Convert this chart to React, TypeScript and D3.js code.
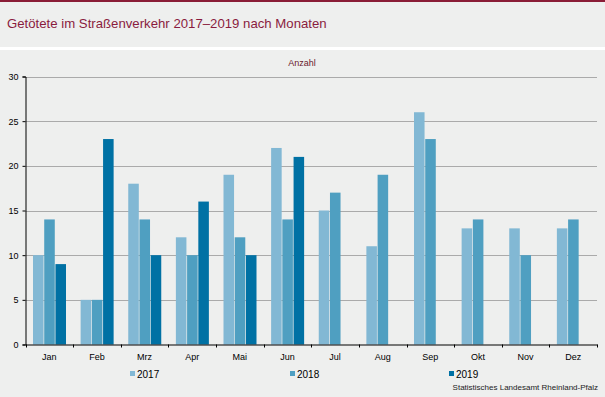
import { useEffect, useRef } from "react";
import * as d3 from "d3";

const months = ["Jan", "Feb", "Mrz", "Apr", "Mai", "Jun", "Jul", "Aug", "Sep", "Okt", "Nov", "Dez"];
const years = ["2017", "2018", "2019"];
const v2017 = [10, 5, 18, 12, 19, 22, 15, 11, 26, 13, 13, 13];
const v2018 = [14, 5, 14, 10, 12, 14, 17, 19, 23, 14, 10, 14];
const v2019 = [9, 23, 10, 16, 10, 21];
const yTicks = [0, 5, 10, 15, 20, 25, 30];
const colors = ["#82b8d4", "#4f9fc1", "#0071a4"];

const W = 605;
const H = 397;
const font = "Arial, 'Liberation Sans', sans-serif";

const App = () => {
  const ref = useRef<SVGSVGElement>(null);

  useEffect(() => {
    const svg = d3.select(ref.current);
    svg.selectAll("*").remove();

    // backgrounds
    svg.append("rect").attr("width", W).attr("height", H).attr("fill", "#ffffff");
    svg.append("rect").attr("x", 0).attr("y", 0).attr("width", W).attr("height", 47).attr("fill", "#eeefee");
    svg.append("rect").attr("x", 0).attr("y", 50).attr("width", W).attr("height", H - 50).attr("fill", "#eeefee");
    svg.append("rect").attr("x", 0).attr("y", 0).attr("width", W).attr("height", 2).attr("fill", "#8a1c36");

    svg.append("text")
      .attr("x", 7).attr("y", 28)
      .attr("font-family", font).attr("font-size", 13.2)
      .attr("fill", "#8a1c3e")
      .text("Getötete im Straßenverkehr 2017–2019 nach Monaten");

    svg.append("text")
      .attr("x", 302).attr("y", 66)
      .attr("text-anchor", "middle")
      .attr("font-family", font).attr("font-size", 9)
      .attr("fill", "#6a1a2c")
      .text("Anzahl");

    const left = 25.5, right = 597, top = 76.5, bottom = 344.5;

    const x = d3.scaleBand().domain(months).range([left, right]);
    const y = d3.scaleLinear().domain([0, 30]).range([bottom, top]);
    const sub = d3.scaleBand().domain(years).range([0, 33]).paddingInner(0.06);

    // gridlines
    svg.append("g")
      .selectAll("line")
      .data(yTicks.filter(d => d > 0))
      .join("line")
      .attr("x1", left).attr("x2", right)
      .attr("y1", d => Math.round(y(d)) + 0.5)
      .attr("y2", d => Math.round(y(d)) + 0.5)
      .attr("stroke", "#aaaaaa").attr("stroke-width", 1);

    const series = [v2017, v2018, v2019];
    series.forEach((vals, si) => {
      svg.append("g")
        .selectAll("rect")
        .data(vals)
        .join("rect")
        .attr("x", (d, i) => (x(months[i]) as number) + 7.5 + (sub(years[si]) as number))
        .attr("y", d => y(d))
        .attr("width", sub.bandwidth())
        .attr("height", d => bottom - y(d))
        .attr("fill", colors[si]);
    });

    // y axis
    const yAxis = svg.append("g")
      .attr("transform", `translate(${left},0)`)
      .call(d3.axisLeft(y).tickValues(yTicks).tickSize(3).tickPadding(4));
    yAxis.select(".domain").attr("stroke", "#000");
    yAxis.selectAll("text").attr("font-family", font).attr("font-size", 9).attr("fill", "#000");

    // x axis
    const xAxis = svg.append("g")
      .attr("transform", `translate(0,${bottom})`)
      .call(d3.axisBottom(x).tickSize(0).tickPadding(9));
    xAxis.select(".domain").attr("stroke", "#000");
    xAxis.selectAll("text").attr("font-family", font).attr("font-size", 9).attr("fill", "#000");
    xAxis.append("g")
      .selectAll("line")
      .data(d3.range(months.length + 1))
      .join("line")
      .attr("x1", i => Math.round(left + i * x.step()) + 0.5)
      .attr("x2", i => Math.round(left + i * x.step()) + 0.5)
      .attr("y1", 0).attr("y2", 3)
      .attr("stroke", "#000");

    // legend
    const legendX = [130, 290, 449];
    years.forEach((yr, i) => {
      svg.append("rect")
        .attr("x", legendX[i]).attr("y", 371)
        .attr("width", 5).attr("height", 5)
        .attr("fill", colors[i]);
      svg.append("text")
        .attr("x", legendX[i] + 7).attr("y", 378)
        .attr("font-family", font).attr("font-size", 10)
        .attr("fill", "#000")
        .text(yr);
    });

    svg.append("text")
      .attr("x", 598).attr("y", 390)
      .attr("text-anchor", "end")
      .attr("font-family", font).attr("font-size", 8)
      .attr("fill", "#222")
      .text("Statistisches Landesamt Rheinland-Pfalz");
  }, []);

  return (
    <svg
      ref={ref}
      width={W}
      height={H}
      style={{ position: "absolute", left: 0, top: 0, display: "block" }}
    />
  );
};

export default App;
